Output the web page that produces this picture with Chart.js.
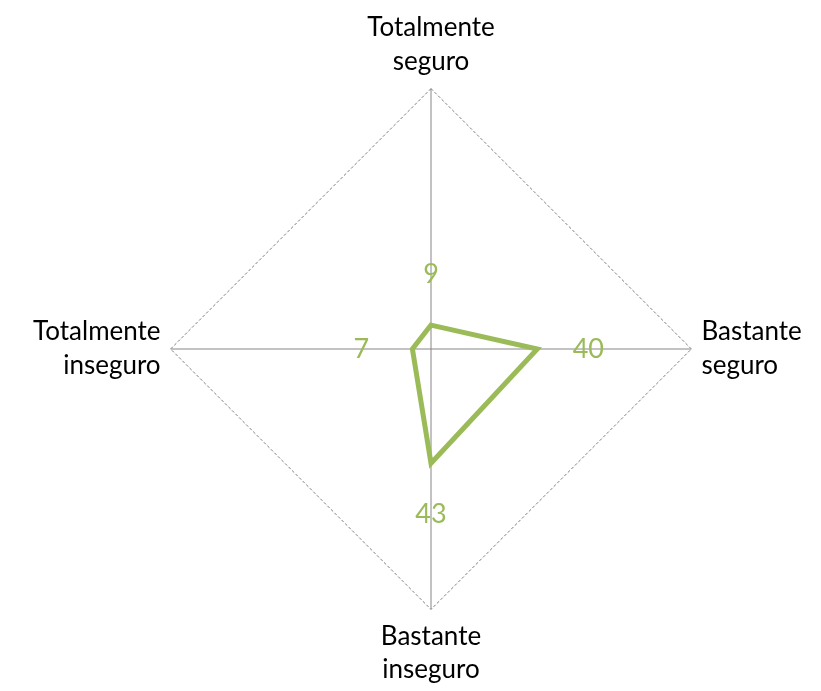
<!DOCTYPE html>
<html>
<head>
<meta charset="utf-8">
<script src="https://cdn.jsdelivr.net/npm/chart.js@4"></script>
<style>
  html, body { margin: 0; padding: 0; background: #fff; }
  #wrap { width: 821px; height: 691px; }
</style>
</head>
<body>
<div id="wrap"><canvas id="radarChart"></canvas></div>
<script>
const categories = [
    ['Totalmente', 'seguro'],
    ['Bastante', 'seguro'],
    ['Bastante', 'inseguro'],
    ['Totalmente', 'inseguro']
];
const values = [9, 40, 43, 7];
const scaleMax = 98;

// draws the green value labels just outside each point
const valueLabels = {
    id: 'valueLabels',
    afterDatasetsDraw(chart) {
        const ctx = chart.ctx;
        const scale = chart.scales.r;
        ctx.save();
        ctx.fillStyle = '#9BBB59';
        ctx.font = '27px Lato, sans-serif';
        ctx.textAlign = 'center';
        ctx.textBaseline = 'middle';
        values.forEach(function(v, i) {
            const d = scale.getDistanceFromCenterForValue(v) + 51;
            const pos = scale.getPointPosition(i, d);
            ctx.fillText(String(v), pos.x, pos.y);
        });
        ctx.restore();
    }
};

document.addEventListener('DOMContentLoaded', function() {
    const ctx = document.getElementById('radarChart').getContext('2d');
    new Chart(ctx, {
        type: 'radar',
        data: {
            labels: categories,
            datasets: [{
                data: values,
                borderColor: '#9BBB59',
                borderWidth: 5,
                backgroundColor: 'rgba(0,0,0,0)',
                fill: false,
                pointRadius: 0,
                borderJoinStyle: 'miter'
            }]
        },
        options: {
            responsive: true,
            maintainAspectRatio: false,
            animation: false,
            layout: { padding: { top: 11, bottom: 3, left: 18, right: 4 } },
            plugins: {
                legend: { display: false },
                tooltip: { enabled: false }
            },
            scales: {
                r: {
                    min: 0,
                    max: scaleMax,
                    ticks: { display: false, stepSize: scaleMax },
                    grid: {
                        color: '#7f7f7f',
                        lineWidth: 1
                    },
                    border: { dash: [3, 2] },
                    angleLines: { color: '#868686', lineWidth: 1 },
                    pointLabels: {
                        color: '#000',
                        font: { family: 'Lato, sans-serif', size: 26, lineHeight: 1.3 },
                        padding: 10
                    }
                }
            }
        },
        plugins: [valueLabels]
    });
});
</script>
</body>
</html>
